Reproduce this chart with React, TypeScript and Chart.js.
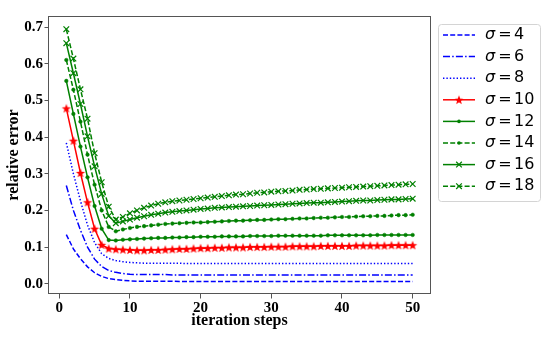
import { useEffect, useRef } from 'react';
import { Chart, registerables } from 'chart.js';

Chart.register(...registerables);

const steps = [
  1, 2, 3, 4, 5, 6, 7, 8, 9, 10, 11, 12, 13, 14, 15, 16, 17, 18, 19, 20,
  21, 22, 23, 24, 25, 26, 27, 28, 29, 30, 31, 32, 33, 34, 35, 36, 37, 38, 39, 40,
  41, 42, 43, 44, 45, 46, 47, 48, 49, 50,
];

const xTicks = [0, 10, 20, 30, 40, 50];
const yTicks = [0.0, 0.1, 0.2, 0.3, 0.4, 0.5, 0.6, 0.7];

const sigmaLabels = ['4', '6', '8', '10', '12', '14', '16', '18'];

const sigma4 = [
  0.134, 0.095, 0.068, 0.046, 0.030, 0.020, 0.014, 0.011, 0.009, 0.008,
  0.007, 0.007, 0.007, 0.007, 0.007, 0.007, 0.006, 0.006, 0.006, 0.006,
  0.006, 0.006, 0.006, 0.006, 0.006, 0.006, 0.006, 0.006, 0.006, 0.006,
  0.006, 0.006, 0.006, 0.006, 0.006, 0.006, 0.006, 0.006, 0.006, 0.006,
  0.006, 0.006, 0.006, 0.006, 0.006, 0.006, 0.006, 0.006, 0.006, 0.006,
];
const sigma6 = [
  0.268, 0.200, 0.146, 0.100, 0.067, 0.047, 0.036, 0.031, 0.028, 0.026,
  0.025, 0.025, 0.025, 0.025, 0.025, 0.024, 0.024, 0.024, 0.024, 0.024,
  0.024, 0.024, 0.024, 0.024, 0.024, 0.024, 0.024, 0.024, 0.024, 0.024,
  0.024, 0.024, 0.024, 0.024, 0.024, 0.024, 0.024, 0.024, 0.024, 0.024,
  0.024, 0.024, 0.024, 0.024, 0.024, 0.024, 0.024, 0.024, 0.024, 0.024,
];
const sigma8 = [
  0.384, 0.300, 0.226, 0.160, 0.112, 0.082, 0.069, 0.063, 0.060, 0.058,
  0.057, 0.056, 0.056, 0.056, 0.056, 0.056, 0.056, 0.055, 0.055, 0.055,
  0.055, 0.055, 0.055, 0.055, 0.055, 0.055, 0.055, 0.055, 0.055, 0.055,
  0.055, 0.055, 0.055, 0.055, 0.055, 0.055, 0.055, 0.055, 0.055, 0.055,
  0.055, 0.055, 0.055, 0.055, 0.055, 0.055, 0.055, 0.055, 0.055, 0.055,
];
const sigma10 = [
  0.478, 0.390, 0.302, 0.222, 0.150, 0.106, 0.096, 0.094, 0.093, 0.092,
  0.091, 0.091, 0.092, 0.092, 0.093, 0.094, 0.095, 0.095, 0.096, 0.097,
  0.097, 0.098, 0.098, 0.099, 0.099, 0.099, 0.100, 0.100, 0.100, 0.101,
  0.101, 0.101, 0.102, 0.102, 0.102, 0.102, 0.103, 0.103, 0.103, 0.103,
  0.103, 0.104, 0.104, 0.104, 0.104, 0.104, 0.105, 0.105, 0.105, 0.105,
];
const sigma12 = [
  0.553, 0.463, 0.374, 0.290, 0.212, 0.150, 0.119, 0.118, 0.120, 0.121,
  0.122, 0.123, 0.124, 0.125, 0.125, 0.126, 0.126, 0.127, 0.127, 0.128,
  0.128, 0.128, 0.129, 0.129, 0.129, 0.129, 0.130, 0.130, 0.130, 0.130,
  0.131, 0.131, 0.131, 0.131, 0.131, 0.131, 0.131, 0.132, 0.132, 0.132,
  0.132, 0.132, 0.132, 0.132, 0.133, 0.133, 0.133, 0.133, 0.133, 0.133,
];
const sigma14 = [
  0.610, 0.529, 0.442, 0.352, 0.270, 0.200, 0.155, 0.143, 0.148, 0.152,
  0.155, 0.157, 0.159, 0.161, 0.163, 0.164, 0.165, 0.166, 0.167, 0.167,
  0.168, 0.169, 0.170, 0.171, 0.172, 0.172, 0.173, 0.174, 0.174, 0.175,
  0.176, 0.176, 0.177, 0.178, 0.178, 0.179, 0.180, 0.180, 0.181, 0.182,
  0.182, 0.183, 0.184, 0.184, 0.185, 0.185, 0.186, 0.187, 0.187, 0.188,
];
const sigma16 = [
  0.656, 0.574, 0.490, 0.402, 0.320, 0.245, 0.185, 0.165, 0.170, 0.175,
  0.180, 0.184, 0.188, 0.191, 0.194, 0.196, 0.198, 0.200, 0.202, 0.204,
  0.205, 0.207, 0.208, 0.209, 0.210, 0.211, 0.212, 0.213, 0.214, 0.215,
  0.216, 0.217, 0.218, 0.219, 0.220, 0.221, 0.221, 0.222, 0.223, 0.224,
  0.225, 0.226, 0.227, 0.227, 0.228, 0.229, 0.230, 0.230, 0.231, 0.232,
];
const sigma18 = [
  0.694, 0.614, 0.530, 0.450, 0.356, 0.277, 0.210, 0.175, 0.182, 0.192,
  0.200, 0.207, 0.213, 0.218, 0.222, 0.225, 0.227, 0.229, 0.231, 0.233,
  0.235, 0.237, 0.239, 0.241, 0.243, 0.244, 0.246, 0.248, 0.249, 0.251,
  0.252, 0.253, 0.254, 0.256, 0.257, 0.258, 0.259, 0.260, 0.261, 0.262,
  0.263, 0.264, 0.265, 0.266, 0.267, 0.268, 0.269, 0.270, 0.271, 0.272,
];

const seriesValues = [sigma4, sigma6, sigma8, sigma10, sigma12, sigma14, sigma16, sigma18];

const BLUE = '#0000ff';
const RED = '#ff0000';
const GREEN = '#008000';

const DASHED = [5, 2.2];
const DASHDOT = [7, 2.2, 1.5, 2.2];
const DOTTED = [1.4, 2];

type Marker = 'none' | 'star' | 'dot' | 'x';
const styles: { color: string; dash: number[]; marker: Marker }[] = [
  { color: BLUE, dash: DASHED, marker: 'none' },
  { color: BLUE, dash: DASHDOT, marker: 'none' },
  { color: BLUE, dash: DOTTED, marker: 'none' },
  { color: RED, dash: [], marker: 'star' },
  { color: GREEN, dash: [], marker: 'dot' },
  { color: GREEN, dash: DASHED, marker: 'dot' },
  { color: GREEN, dash: [], marker: 'x' },
  { color: GREEN, dash: DASHED, marker: 'x' },
];

function makeStar(color: string, r: number): HTMLCanvasElement {
  const size = Math.ceil(r * 2 + 2);
  const c = document.createElement('canvas');
  c.width = size;
  c.height = size;
  const ctx = c.getContext('2d')!;
  const cx = size / 2;
  const cy = size / 2 + 0.4;
  ctx.beginPath();
  for (let i = 0; i < 10; i++) {
    const rr = i % 2 === 0 ? r : r * 0.42;
    const ang = -Math.PI / 2 + (i * Math.PI) / 5;
    const px = cx + rr * Math.cos(ang);
    const py = cy + rr * Math.sin(ang);
    if (i === 0) ctx.moveTo(px, py);
    else ctx.lineTo(px, py);
  }
  ctx.closePath();
  ctx.fillStyle = color;
  ctx.fill();
  return c;
}

const FRAME = '#555555';
const SERIF_BOLD = (px: number) => `bold ${px}px "Liberation Serif", "Times New Roman", serif`;

export default function App() {
  const ref = useRef<HTMLCanvasElement | null>(null);

  useEffect(() => {
    if (!ref.current) return;
    const star = makeStar(RED, 4.8);

    const datasets = seriesValues.map((vals, i) => {
      const st = styles[i];
      const base: any = {
        label: 'σ = ' + sigmaLabels[i],
        data: steps.map((x, k) => ({ x, y: vals[k] })),
        borderColor: st.color,
        backgroundColor: st.color,
        borderWidth: 1.5,
        borderDash: st.dash,
        tension: 0,
        fill: false,
        order: seriesValues.length - i,
        pointRadius: 0,
      };
      if (st.marker === 'star') {
        base.pointStyle = star;
        base.pointRadius = 3.5;
      } else if (st.marker === 'dot') {
        base.pointStyle = 'circle';
        base.pointRadius = 1.8;
        base.pointBorderWidth = 0.5;
        base.pointBackgroundColor = st.color;
        base.pointBorderColor = st.color;
      } else if (st.marker === 'x') {
        base.pointStyle = 'crossRot';
        base.pointRadius = 4;
        base.pointBorderWidth = 1.2;
        base.pointBorderColor = st.color;
      }
      return base;
    });

    const drawMarker = (ctx: CanvasRenderingContext2D, m: Marker, color: string, x: number, y: number) => {
      ctx.save();
      ctx.setLineDash([]);
      if (m === 'star') {
        ctx.drawImage(star, x - star.width / 2, y - star.height / 2);
      } else if (m === 'dot') {
        ctx.fillStyle = color;
        ctx.beginPath();
        ctx.arc(x, y, 1.8, 0, Math.PI * 2);
        ctx.fill();
      } else if (m === 'x') {
        ctx.strokeStyle = color;
        ctx.lineWidth = 1.2;
        const d = 4 * Math.SQRT1_2;
        ctx.beginPath();
        ctx.moveTo(x - d, y - d);
        ctx.lineTo(x + d, y + d);
        ctx.moveTo(x - d, y + d);
        ctx.lineTo(x + d, y - d);
        ctx.stroke();
      }
      ctx.restore();
    };

    const decor = {
      id: 'decor',
      afterDraw(chart: any) {
        const ctx: CanvasRenderingContext2D = chart.ctx;
        const a = chart.chartArea;
        ctx.save();
        // frame
        ctx.strokeStyle = FRAME;
        ctx.lineWidth = 1;
        ctx.setLineDash([]);
        ctx.strokeRect(Math.round(a.left) - 0.5, Math.round(a.top) + 0.5, Math.round(a.right - a.left) + 1, Math.round(a.bottom - a.top) - 1);
        // axis titles
        ctx.fillStyle = '#000';
        ctx.font = SERIF_BOLD(16);
        ctx.textAlign = 'center';
        ctx.textBaseline = 'middle';
        ctx.fillText('iteration steps', (a.left + a.right) / 2, 321);
        ctx.save();
        ctx.translate(14, (a.top + a.bottom) / 2);
        ctx.rotate(-Math.PI / 2);
        ctx.fillText('relative error', 0, 0);
        ctx.restore();

        // legend
        const bx = 438.5, by = 24.5, bw = 102, bh = 177;
        ctx.beginPath();
        (ctx as any).roundRect(bx, by, bw, bh, 3);
        ctx.fillStyle = 'rgba(255,255,255,0.85)';
        ctx.fill();
        ctx.strokeStyle = '#d4d4d4';
        ctx.lineWidth = 1;
        ctx.stroke();

        const rowY0 = 35;
        const rowStep = 21.6;
        for (let i = 0; i < styles.length; i++) {
          const st = styles[i];
          const y = rowY0 + i * rowStep;
          ctx.save();
          ctx.strokeStyle = st.color;
          ctx.lineWidth = 1.5;
          ctx.setLineDash(st.dash);
          ctx.beginPath();
          ctx.moveTo(443, y);
          ctx.lineTo(475, y);
          ctx.stroke();
          ctx.restore();
          drawMarker(ctx, st.marker, st.color, 459, y);

          ctx.fillStyle = '#000';
          ctx.textAlign = 'left';
          ctx.textBaseline = 'middle';
          let tx = 485;
          ctx.font = 'italic 16px "DejaVu Sans", sans-serif';
          ctx.fillText('σ', tx, y);
          tx += ctx.measureText('σ').width + 3;
          ctx.font = '16px "DejaVu Sans", sans-serif';
          ctx.fillText('=', tx, y);
          tx += ctx.measureText('=').width + 2.5;
          ctx.fillText(sigmaLabels[i], tx, y);
        }
        ctx.restore();
      },
    };

    const tickFont = { family: '"Liberation Serif", "Times New Roman", serif', weight: 'bold' as const, size: 15 };

    const chart = new Chart(ref.current, {
      type: 'line',
      data: { datasets },
      options: {
        animation: false,
        responsive: false,
        maintainAspectRatio: false,
        parsing: false as any,
        layout: { padding: { top: 16, right: 120, left: 0, bottom: 0 } },
        plugins: {
          legend: { display: false },
          tooltip: { enabled: false },
          title: { display: false },
        },
        scales: {
          x: {
            type: 'linear',
            min: -1.45,
            max: 52.45,
            afterBuildTicks: (s: any) => {
              s.ticks = xTicks.map((v) => ({ value: v }));
            },
            afterFit: (s: any) => {
              s.height = 46;
            },
            grid: {
              drawOnChartArea: false,
              drawTicks: true,
              tickLength: 4.5,
              color: FRAME,
              lineWidth: 1,
            },
            border: { display: false },
            ticks: {
              color: '#000',
              padding: 1,
              maxRotation: 0,
              autoSkip: false,
              font: tickFont,
              callback: (v: any) => String(v),
            },
          },
          y: {
            type: 'linear',
            min: -0.028,
            max: 0.73,
            afterBuildTicks: (s: any) => {
              s.ticks = yTicks.map((v) => ({ value: v }));
            },
            afterFit: (s: any) => {
              s.width = 49;
            },
            grid: {
              drawOnChartArea: false,
              drawTicks: true,
              tickLength: 4.5,
              color: FRAME,
              lineWidth: 1,
            },
            border: { display: false },
            ticks: {
              color: '#000',
              padding: 1.5,
              autoSkip: false,
              font: tickFont,
              callback: (v: any) => Number(v).toFixed(1),
            },
          },
        },
      },
      plugins: [decor],
    });

    return () => {
      chart.destroy();
    };
  }, []);

  return (
    <div style={{ position: 'fixed', left: 0, top: 0, width: 550, height: 340, background: '#fff' }}>
      <canvas ref={ref} width={550} height={340} style={{ width: 550, height: 340, display: 'block' }} />
    </div>
  );
}
